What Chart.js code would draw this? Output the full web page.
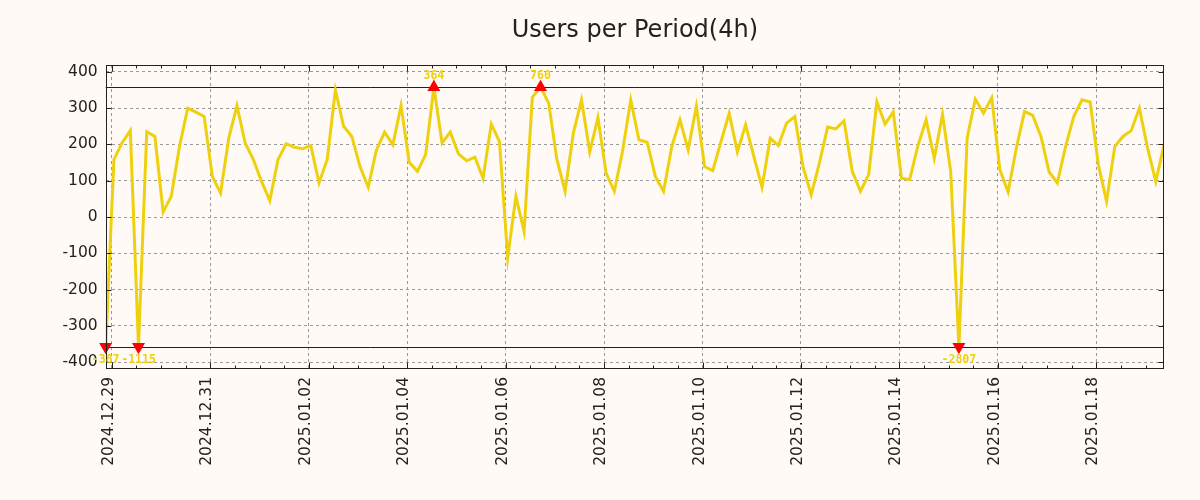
<!DOCTYPE html>
<html>
<head>
<meta charset="utf-8">
<script src="https://cdn.jsdelivr.net/npm/chart.js@4.4.1/dist/chart.umd.min.js"></script>
<style>
  html, body { margin: 0; padding: 0; background: #fffaf5; }
  #wrap { width: 1200px; height: 500px; }
</style>
</head>
<body>
<div id="wrap"><canvas id="c" width="1200" height="500"></canvas></div>
<script>
// ---------------- data ----------------
const chartTitle = 'Users per Period(4h)';
const firstPeriod = '2024-12-28T21:00:00Z';   // timestamp of first 4h period
const periodHours = 4;
const users = [
  -387, 158, 205, 238, -1115, 235, 222, 14, 57, 195,
  300, 289, 277, 112, 66, 217, 307, 204, 158, 98,
  45, 158, 202, 192, 188, 197, 94, 158, 350, 250,
  222, 139, 82, 185, 234, 199, 307, 151, 126, 172,
  364, 204, 234, 174, 155, 165, 107, 256, 208, -112,
  57, -40, 330, 760, 314, 158, 71, 231, 323, 179,
  274, 121, 71, 181, 323, 213, 206, 112, 71, 194,
  268, 185, 305, 139, 128, 208, 286, 179, 254, 167,
  82, 217, 197, 259, 277, 139, 61, 149, 248, 243,
  265, 126, 71, 117, 317, 256, 289, 107, 103, 196,
  268, 162, 283, 126, -2807, 217, 325, 286, 329, 130,
  69, 190, 291, 280, 222, 124, 94, 194, 277, 323,
  317, 144, 43, 194, 222, 238, 300, 190, 98, 199
];
const clipLimit = 358;
const yAxisLimit = 419;
const yTickValues = [-400, -300, -200, -100, 0, 100, 200, 300, 400];
const dateTickLabels = ['2024.12.29', '2024.12.31', '2025.01.02', '2025.01.04', '2025.01.06',
  '2025.01.08', '2025.01.10', '2025.01.12', '2025.01.14', '2025.01.16', '2025.01.18'];

// ---------------- derived ----------------
const origin = Date.UTC(2024, 11, 29);
const HOUR = 3600e3;
const t0 = (Date.parse(firstPeriod) - origin) / HOUR;
const xs = users.map((_, i) => t0 + i * periodHours);
function labelToHours(s) {
  const [y, m, d] = s.split('.').map(Number);
  return (Date.UTC(y, m - 1, d) - origin) / HOUR;
}
const dateTickHours = dateTickLabels.map(labelToHours);
const labelByHour = {};
dateTickHours.forEach((h, i) => labelByHour[h] = dateTickLabels[i]);
const xMin = xs[0], xMax = xs[xs.length - 1];

const clipped = users.map(v => Math.max(-clipLimit, Math.min(clipLimit, v)));
const linePts = xs.map((x, i) => ({ x, y: clipped[i] }));
const highPts = [], lowPts = [];
users.forEach((v, i) => {
  if (v >= clipLimit) highPts.push({ x: xs[i], y: clipped[i], raw: v });
  if (v <= -clipLimit) lowPts.push({ x: xs[i], y: clipped[i], raw: v });
});

const BG = '#fffaf5';
const INK = '#222222';
const LINE = '#efd00f';

const decor = {
  id: 'decor',
  beforeDraw(chart) {
    const { ctx, width, height } = chart;
    ctx.save();
    ctx.fillStyle = BG;
    ctx.fillRect(0, 0, width, height);
    ctx.restore();
  },
  beforeDatasetsDraw(chart) {
    const { ctx, chartArea: a, scales } = chart;
    const y = scales.y;
    ctx.save();
    ctx.strokeStyle = INK;
    ctx.lineWidth = 1;
    [clipLimit, -clipLimit].forEach(v => {
      const py = Math.round(y.getPixelForValue(v)) + 0.5;
      ctx.beginPath();
      ctx.moveTo(a.left, py);
      ctx.lineTo(a.right, py);
      ctx.stroke();
    });
    ctx.restore();
  },
  afterDatasetsDraw(chart) {
    const { ctx, chartArea: a, scales } = chart;
    const x = scales.x, y = scales.y;
    ctx.save();
    ctx.strokeStyle = INK;
    ctx.lineWidth = 1;
    const L = Math.round(a.left) + 0.5, R = Math.round(a.right) - 0.5;
    const T = Math.round(a.top) + 0.5, B = Math.round(a.bottom) - 0.5;
    ctx.strokeRect(L, T, R - L, B - T);
    ctx.beginPath();
    for (let h = Math.ceil(xMin / 12) * 12; h <= xMax; h += 12) {
      const px = Math.round(x.getPixelForValue(h)) + 0.5;
      const len = dateTickHours.includes(h) ? 6 : 3;
      ctx.moveTo(px, B); ctx.lineTo(px, B - len);
      ctx.moveTo(px, T); ctx.lineTo(px, T + len);
    }
    yTickValues.forEach(v => {
      const py = Math.round(y.getPixelForValue(v)) + 0.5;
      ctx.moveTo(L, py); ctx.lineTo(L + 5, py);
      ctx.moveTo(R, py); ctx.lineTo(R - 5, py);
    });
    ctx.stroke();
    ctx.restore();
  },
  afterDraw(chart) {
    const { ctx, scales } = chart;
    const x = scales.x, y = scales.y;
    ctx.save();
    ctx.fillStyle = LINE;
    ctx.font = 'bold 11.5px "DejaVu Sans Mono", monospace';
    ctx.textAlign = 'center';
    ctx.textBaseline = 'middle';
    highPts.forEach(p => {
      ctx.fillText(String(p.raw), x.getPixelForValue(p.x), y.getPixelForValue(p.y) - 11);
    });
    lowPts.forEach(p => {
      ctx.fillText(String(p.raw), x.getPixelForValue(p.x), y.getPixelForValue(p.y) + 13);
    });
    ctx.restore();
  }
};

const tickFont = { family: '"DejaVu Sans", sans-serif', size: 15.5 };

new Chart(document.getElementById('c'), {
  type: 'line',
  data: {
    datasets: [
      {
        label: 'Users',
        data: linePts,
        borderColor: LINE,
        borderWidth: 3,
        pointRadius: 0,
        tension: 0,
        fill: false,
        order: 3
      },
      {
        type: 'scatter',
        label: 'max',
        data: highPts,
        pointStyle: 'triangle',
        pointRadius: 6,
        pointBackgroundColor: '#ff0000',
        pointBorderColor: '#ff0000',
        pointBorderWidth: 1.5,
        clip: false,
        order: 1
      },
      {
        type: 'scatter',
        label: 'min',
        data: lowPts,
        pointStyle: 'triangle',
        pointRotation: 180,
        pointRadius: 6,
        pointBackgroundColor: '#ff0000',
        pointBorderColor: '#ff0000',
        pointBorderWidth: 1.5,
        clip: false,
        order: 2
      }
    ]
  },
  options: {
    responsive: false,
    animation: false,
    devicePixelRatio: 1,
    layout: { padding: 0 },
    plugins: {
      legend: { display: false },
      tooltip: { enabled: false },
      title: {
        display: true,
        fullSize: false,
        text: chartTitle,
        color: INK,
        font: { family: '"DejaVu Sans", sans-serif', size: 24, weight: 'normal', lineHeight: 1.2 },
        padding: { top: 16.5, bottom: 19.7 }
      }
    },
    scales: {
      x: {
        type: 'linear',
        min: xMin,
        max: xMax,
        afterBuildTicks: s => { s.ticks = dateTickHours.map(v => ({ value: v })); },
        afterFit: s => { s.height = 131; },
        ticks: {
          autoSkip: false,
          minRotation: 90,
          maxRotation: 90,
          padding: 8,
          labelOffset: -3,
          color: INK,
          font: tickFont,
          callback: v => labelByHour[v] || ''
        },
        grid: { color: '#9a9a9a', lineWidth: 1, drawTicks: false },
        border: { display: false, dash: [3, 3] }
      },
      y: {
        type: 'linear',
        position: 'left',
        min: -yAxisLimit,
        max: yAxisLimit,
        afterBuildTicks: s => { s.ticks = yTickValues.map(v => ({ value: v })); },
        afterFit: s => { s.width = 105.7; },
        ticks: {
          padding: 8,
          color: INK,
          font: tickFont,
          callback: v => String(v)
        },
        grid: { color: '#9a9a9a', lineWidth: 1, drawTicks: false },
        border: { display: false, dash: [3, 3] }
      },
      yR: {
        type: 'linear',
        position: 'right',
        min: -yAxisLimit,
        max: yAxisLimit,
        afterFit: s => { s.width = 36; },
        ticks: { display: false },
        grid: { display: false, drawTicks: false },
        border: { display: false }
      }
    }
  },
  plugins: [decor]
});
</script>
</body>
</html>
